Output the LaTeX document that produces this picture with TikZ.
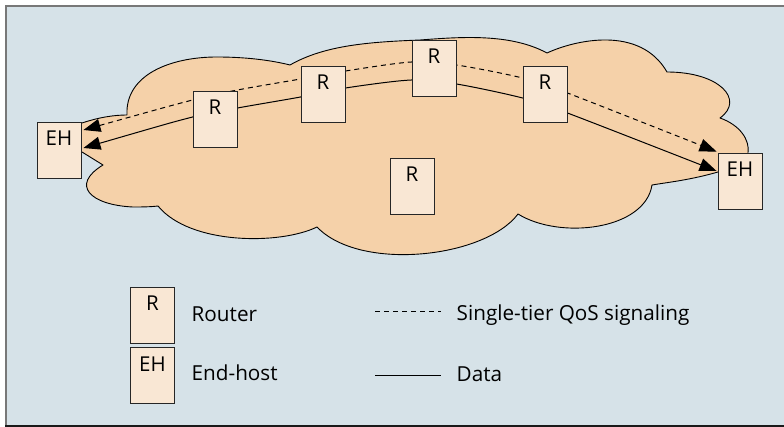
\documentclass[tikz,border=0pt]{standalone}
\usepackage{fontspec}
\setmainfont{Open Sans}
\usetikzlibrary{arrows.meta,calc}
\pgfdeclarelayer{back}
\pgfdeclarelayer{mid}
\pgfsetlayers{back,mid,main}

\definecolor{panel}{RGB}{214,226,232}
\definecolor{cloudfill}{RGB}{245,209,169}
\definecolor{boxfill}{RGB}{249,231,212}
\definecolor{framegray}{RGB}{120,120,120}

\tikzset{
  netbox/.style={draw=black!85, fill=boxfill, line width=0.9pt,
    minimum width=44pt, inner sep=0pt, text height=24pt, text depth=32pt,
    font=\fontsize{20.5}{24}\selectfont},
  legtext/.style={anchor=base west, inner sep=0pt, font=\fontsize{20.7}{24}\selectfont},
  sig/.style={line width=1pt, dash pattern=on 5pt off 4pt},
  dat/.style={line width=1pt},
  tip/.style={{Triangle[length=17pt,width=13pt]}-{Triangle[length=17pt,width=13pt]}}
}

\begin{document}
\begin{tikzpicture}[x=1pt,y=-1pt]
\useasboundingbox (0,0) rectangle (784,427);

% routers and end hosts
\node[netbox] (EHL) at (59,150) {EH};
\node[netbox] (R1)  at (215,119) {R};
\node[netbox] (R2)  at (323,94) {R};
\node[netbox] (R3)  at (434,68) {R};
\node[netbox] (R4)  at (545,94) {R};
\node[netbox] (EHR) at (740,181) {EH};
\node[netbox] (R5)  at (412,186) {R};

% legend
\node[netbox] (LR)  at (152.5,315) {R};
\node[netbox] (LEH) at (152.5,375) {EH};
\node[legtext] (tR)  at (191.5,322) {Router};
\node[legtext] (tEH) at (191.5,381) {End-host};
\coordinate (ls1) at (375,312);
\coordinate (ls2) at (441,312);
\coordinate (ld1) at (375,375);
\coordinate (ld2) at (441,375);
\node[legtext] (tS) at (456.5,320.7) {Single-tier QoS signaling};
\node[legtext] (tD) at (456.5,381.5) {Data};
\draw[sig] (ls1) -- (ls2);
\draw[dat] (ld1) -- (ld2);

% panel and network cloud
\begin{pgfonlayer}{back}
  \fill[panel] (5.5,5.5) rectangle (790,426);
  \draw[framegray, line width=1.6pt] (5.8,426) -- (5.8,5.8) -- (790,5.8);
  \draw[black!90, line width=1.4pt] (5,426) -- (790,426);
  \draw[fill=cloudfill, line width=0.9pt, line join=round]
    (82,123) .. controls (100,117) and (115,115) .. (127,115)
    .. controls (125,75) and (170,57) .. (217,57)
    .. controls (245,57) and (270,60) .. (290,65)
    .. controls (325,45) and (370,42) .. (420,40)
    .. controls (460,37) and (510,33) .. (547,53)
    .. controls (575,40) and (640,25) .. (667,72)
    .. controls (720,72) and (745,100) .. (720,118)
    .. controls (740,125) and (750,140) .. (748,153)
    -- (748,165) -- (725,172) -- (718,172)
    .. controls (690,180) and (670,182) .. (652,185)
    .. controls (645,230) and (560,240) .. (518,214)
    .. controls (485,258) and (360,272) .. (317,227)
    .. controls (280,245) and (190,245) .. (158,206)
    .. controls (150,207) and (140,207) .. (133,207)
    .. controls (90,205) and (70,185) .. (103,165)
    -- (82,152) -- (72,152) -- (72,123) -- cycle;
\end{pgfonlayer}

% signaling and data paths
\coordinate (d0) at ($(EHL.east)+(2,-20)$);
\coordinate (d1) at ($(R1.west)+(0,-19)$);
\coordinate (d2) at ($(R1.east)+(0,-29)$);
\coordinate (d3) at ($(R2.west)+(0,-15)$);
\coordinate (d4) at ($(R2.east)+(0,-23)$);
\coordinate (d5) at ($(R3.west)+(0,-6)$);
\coordinate (d6) at ($(R3.east)+(0,-3)$);
\coordinate (d7) at ($(R4.west)+(0,-16)$);
\coordinate (d8) at ($(R4.east)+(0,-1)$);
\coordinate (d9) at ($(EHR.north west)+(-1,-1)$);

\coordinate (s0) at ($(EHL.east)+(2,-2)$);
\coordinate (s1) at ($(R1.west)+(0,-2)$);
\coordinate (s2) at ($(R1.east)+(0,-11)$);
\coordinate (s3) at ($(R2.west)+(0,3)$);
\coordinate (s4) at ($(R2.east)+(0,-6)$);
\coordinate (s5) at ($(R3.west)+(0,12)$);
\coordinate (s6) at ($(R3.east)+(0,16)$);
\coordinate (s7) at ($(R4.west)+(0,4)$);
\coordinate (s8) at ($(R4.east)+(0,19)$);
\coordinate (s9) at ($(EHR.west)+(-1,-10)$);

\begin{pgfonlayer}{mid}
  \draw[sig, tip] plot[smooth, tension=0.5] coordinates
    {(d0) (d1) (d2) (d3) (d4) (d5) (d6) (d7) (d8) (d9)};
  \draw[dat, tip] plot[smooth, tension=0.5] coordinates
    {(s0) (s1) (s2) (s3) (s4) (s5) (s6) (s7) (s8) (s9)};
\end{pgfonlayer}
\end{tikzpicture}
\end{document}
